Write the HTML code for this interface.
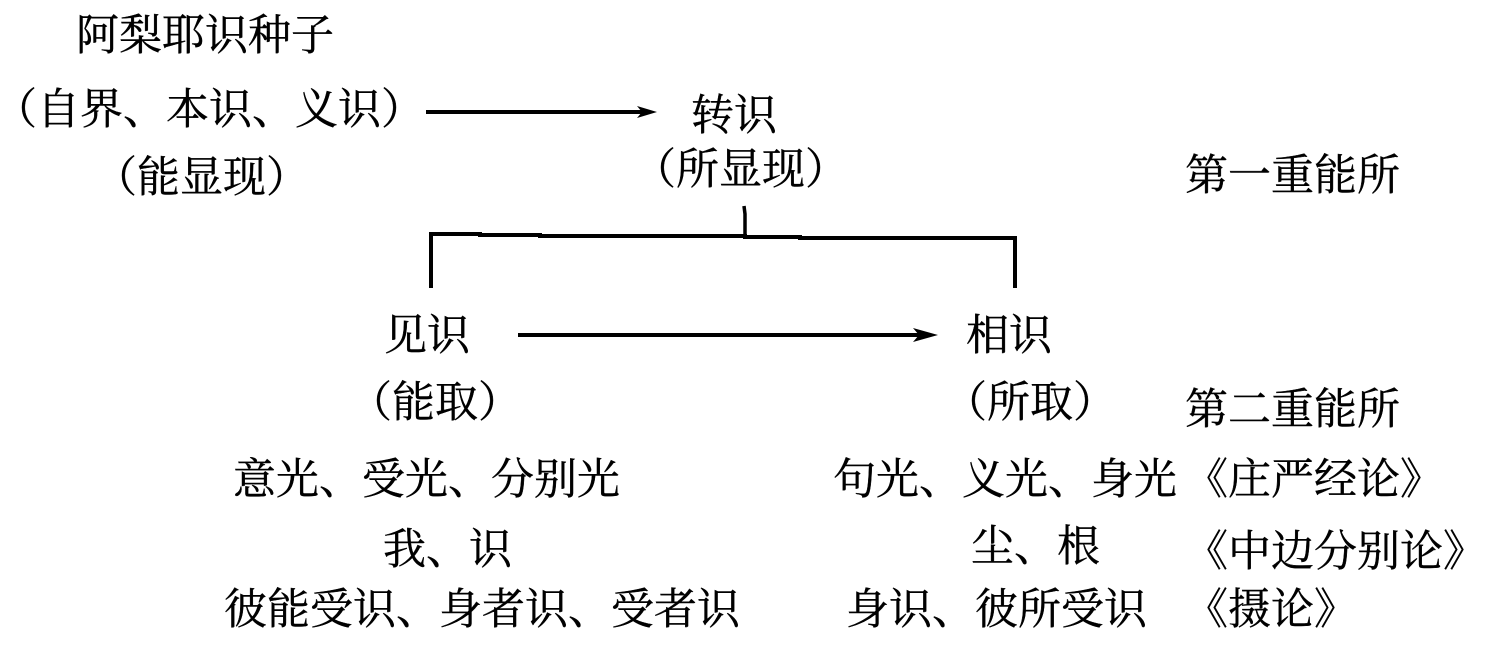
<!DOCTYPE html>
<html>
<head>
<meta charset="utf-8">
<style>
html,body{margin:0;padding:0;background:#fff;}
body{width:1498px;height:659px;position:relative;overflow:hidden;}
.t{position:absolute;white-space:nowrap;font-family:"Liberation Serif","Noto Serif CJK SC",serif;font-size:43px;line-height:43px;color:#000;-webkit-text-stroke:0.4px #000;}
svg{position:absolute;left:0;top:0;}
</style>
</head>
<body>
<svg width="1498" height="659" viewBox="0 0 1498 659">
  <!-- arrow 1 -->
  <line x1="426" y1="112" x2="644" y2="112" stroke="#000" stroke-width="4"/>
  <polygon points="637,106 657,112 637,118 642,112" fill="#000"/>
  <!-- tick -->
  <polyline points="744,206 745,214 745,236" fill="none" stroke="#000" stroke-width="3.5"/>
  <!-- bracket -->
  <polyline points="431,288 431,234 480,234 480,235 540,235 540,236 745,236 745,237 800,237 800,238 1015,238 1015,288" fill="none" stroke="#000" stroke-width="4"/>
  <!-- arrow 2 -->
  <line x1="518" y1="335" x2="922" y2="335" stroke="#000" stroke-width="4"/>
  <polygon points="913,328 938,335 913,342 919,335" fill="#000"/>
</svg>

<div class="t" style="left:76px;top:15px;">阿梨耶识种子</div>
<div class="t" style="left:-6px;top:89px;">（自界、本识、义识）</div>
<div class="t" style="left:94px;top:157px;">（能显现）</div>

<div class="t" style="left:691px;top:95px;">转识</div>
<div class="t" style="left:633px;top:149px;">（所显现）</div>

<div class="t" style="left:1185px;top:155px;">第一重能所</div>

<div class="t" style="left:384px;top:315px;">见识</div>
<div class="t" style="left:966px;top:315px;">相识</div>

<div class="t" style="left:349px;top:382px;">（能取）</div>
<div class="t" style="left:944px;top:382px;">（所取）</div>
<div class="t" style="left:1185px;top:389px;">第二重能所</div>

<div class="t" style="left:233px;top:459px;">意光、受光、分别光</div>
<div class="t" style="left:833px;top:459px;">句光、义光、身光</div>
<div class="t" style="left:1185px;top:459px;">《庄严经论》</div>

<div class="t" style="left:383px;top:529px;">我、识</div>
<div class="t" style="left:971px;top:526px;">尘、根</div>
<div class="t" style="left:1185px;top:531px;">《中边分别论》</div>

<div class="t" style="left:224px;top:589px;">彼能受识、身者识、受者识</div>
<div class="t" style="left:846px;top:589px;">身识、彼所受识</div>
<div class="t" style="left:1185px;top:589px;">《摄论》</div>
</body>
</html>
